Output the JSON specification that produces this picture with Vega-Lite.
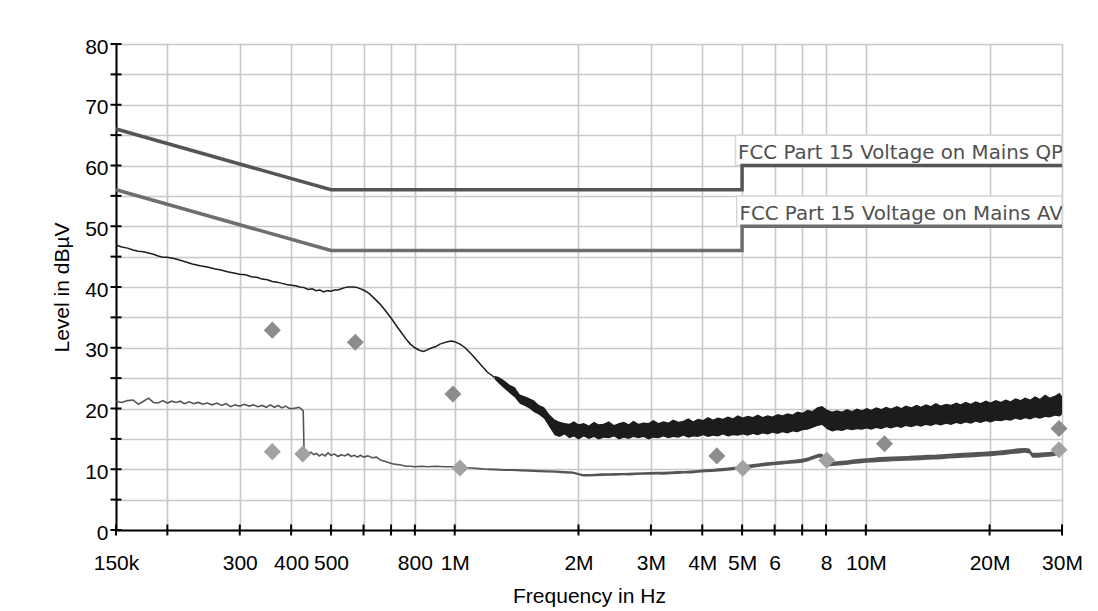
{
  "$schema": "https://vega.github.io/schema/vega-lite/v6.json",
  "width": 946,
  "height": 486,
  "autosize": {"type": "none"},
  "padding": {"left": 116, "top": 44, "right": 36, "bottom": 81},
  "background": "white",
  "config": {"view": {"stroke": null}},
  "datasets": {
    "limQP": [{"f":0.15,"v":66},{"f":0.5,"v":56},{"f":4.999,"v":56},{"f":5,"v":60},{"f":30,"v":60}],
    "limAV": [{"f":0.15,"v":56},{"f":0.5,"v":46},{"f":4.999,"v":46},{"f":5,"v":50},{"f":30,"v":50}],
    "boxes": [{"f":4.82,"f2":30,"v":60,"v2":65},{"f":4.85,"f2":30,"v":50,"v2":55}],
    "labels": [{"f":4.89,"v":61.1,"t":"FCC Part 15 Voltage on Mains QP"},{"f":4.93,"v":51.1,"t":"FCC Part 15 Voltage on Mains AV"}],
    "pk": [
      {"f":0.150,"v":46.9},{"f":0.155,"v":46.6},{"f":0.160,"v":46.4},{"f":0.165,"v":46.1},{"f":0.170,"v":45.9},{"f":0.175,"v":45.8},{"f":0.180,"v":45.6},{"f":0.185,"v":45.4},{"f":0.190,"v":45.1},{"f":0.195,"v":44.9},{"f":0.200,"v":44.9},{"f":0.210,"v":44.6},{"f":0.220,"v":44.2},{"f":0.230,"v":43.8},{"f":0.240,"v":43.5},{"f":0.250,"v":43.3},{"f":0.260,"v":43.0},{"f":0.270,"v":42.8},{"f":0.280,"v":42.5},{"f":0.290,"v":42.3},{"f":0.300,"v":42.1},{"f":0.310,"v":42.0},{"f":0.320,"v":41.7},{"f":0.330,"v":41.6},{"f":0.340,"v":41.3},{"f":0.350,"v":41.2},{"f":0.360,"v":40.9},{"f":0.370,"v":40.8},{"f":0.380,"v":40.6},{"f":0.390,"v":40.4},{"f":0.400,"v":40.3},{"f":0.410,"v":40.2},{"f":0.420,"v":40.0},{"f":0.430,"v":39.9},{"f":0.440,"v":39.6},{"f":0.450,"v":39.7},{"f":0.460,"v":39.4},{"f":0.470,"v":39.5},{"f":0.480,"v":39.2},{"f":0.490,"v":39.4},{"f":0.500,"v":39.3},{"f":0.510,"v":39.5},{"f":0.520,"v":39.5},{"f":0.530,"v":39.7},{"f":0.540,"v":39.9},{"f":0.550,"v":40.0},{"f":0.560,"v":40.0},{"f":0.570,"v":40.0},{"f":0.580,"v":39.9},{"f":0.590,"v":39.7},{"f":0.600,"v":39.5},{"f":0.620,"v":38.9},{"f":0.640,"v":38.0},{"f":0.660,"v":37.1},{"f":0.680,"v":36.0},{"f":0.700,"v":34.9},{"f":0.720,"v":33.7},{"f":0.740,"v":32.6},{"f":0.760,"v":31.5},{"f":0.780,"v":30.6},{"f":0.800,"v":30.0},{"f":0.820,"v":29.6},{"f":0.840,"v":29.4},{"f":0.860,"v":29.7},{"f":0.880,"v":30.0},{"f":0.900,"v":30.2},{"f":0.920,"v":30.6},{"f":0.940,"v":30.8},{"f":0.960,"v":31.0},{"f":0.980,"v":31.1},{"f":1.000,"v":31.0},{"f":1.030,"v":30.6},{"f":1.060,"v":30.0},{"f":1.100,"v":28.9},{"f":1.150,"v":27.4},{"f":1.200,"v":26.0},{"f":1.250,"v":25.1}
    ],
    "pkBand": [
      {"f":1.25,"v":24.8,"v2":25.4},{"f":1.28,"v":24.1,"v2":25.2},{"f":1.32,"v":23.3,"v2":24.6},{"f":1.36,"v":22.5,"v2":23.9},{"f":1.40,"v":21.8,"v2":23.5},{"f":1.44,"v":20.8,"v2":22.3},{"f":1.48,"v":20.4,"v2":22.0},{"f":1.52,"v":20.0,"v2":21.7},{"f":1.56,"v":19.4,"v2":21.3},{"f":1.60,"v":19.0,"v2":20.6},{"f":1.65,"v":18.3,"v2":20.2},{"f":1.70,"v":16.9,"v2":19.0},{"f":1.75,"v":15.6,"v2":18.2},{"f":1.80,"v":15.3,"v2":17.8},{"f":1.85,"v":15.7,"v2":17.6},{"f":1.90,"v":15.1,"v2":17.5},{"f":1.95,"v":15.4,"v2":17.9},{"f":2.00,"v":14.9,"v2":17.4},
      {"f":2.06,"v":15.4,"v2":17.6},{"f":2.12,"v":15.0,"v2":17.2},{"f":2.18,"v":15.3,"v2":17.8},{"f":2.24,"v":14.9,"v2":17.4},{"f":2.30,"v":15.2,"v2":17.5},{"f":2.37,"v":15.1,"v2":17.9},{"f":2.44,"v":15.4,"v2":17.3},{"f":2.51,"v":14.9,"v2":17.6},{"f":2.58,"v":15.2,"v2":17.8},{"f":2.65,"v":15.0,"v2":17.4},{"f":2.72,"v":15.3,"v2":18.0},{"f":2.80,"v":15.1,"v2":17.5},{"f":2.88,"v":15.3,"v2":17.7},{"f":2.96,"v":14.9,"v2":17.6},{"f":3.04,"v":15.2,"v2":18.1},{"f":3.13,"v":15.1,"v2":17.6},{"f":3.22,"v":15.4,"v2":17.9},{"f":3.31,"v":15.1,"v2":17.7},{"f":3.40,"v":15.3,"v2":18.2},{"f":3.50,"v":15.2,"v2":17.8},{"f":3.60,"v":15.5,"v2":18.0},{"f":3.70,"v":15.2,"v2":18.4},{"f":3.80,"v":15.4,"v2":17.9},{"f":3.91,"v":15.3,"v2":18.3},{"f":4.02,"v":15.6,"v2":18.1},{"f":4.13,"v":15.3,"v2":18.6},{"f":4.25,"v":15.5,"v2":18.2},{"f":4.37,"v":15.4,"v2":18.5},{"f":4.49,"v":15.7,"v2":18.3},{"f":4.62,"v":15.4,"v2":18.7},{"f":4.75,"v":15.6,"v2":18.4},{"f":4.88,"v":15.5,"v2":18.9},{"f":5.02,"v":15.7,"v2":18.5},{"f":5.16,"v":15.5,"v2":18.8},{"f":5.31,"v":15.8,"v2":18.6},{"f":5.46,"v":15.6,"v2":19.0},{"f":5.61,"v":15.9,"v2":18.6},{"f":5.77,"v":15.7,"v2":18.9},{"f":5.93,"v":16.0,"v2":18.7},{"f":6.10,"v":15.8,"v2":19.1},{"f":6.27,"v":16.1,"v2":18.9},{"f":6.45,"v":15.9,"v2":19.2},{"f":6.63,"v":16.2,"v2":19.0},{"f":6.82,"v":16.1,"v2":19.5},{"f":7.01,"v":16.4,"v2":19.3},{"f":7.21,"v":16.5,"v2":19.8},{"f":7.41,"v":16.8,"v2":19.6},{"f":7.62,"v":17.1,"v2":20.2},{"f":7.83,"v":17.3,"v2":20.4},{"f":8.05,"v":16.6,"v2":19.8},{"f":8.28,"v":16.2,"v2":19.5},{"f":8.51,"v":16.4,"v2":19.7},{"f":8.75,"v":16.3,"v2":19.5},{"f":9.00,"v":16.6,"v2":19.9},{"f":9.25,"v":16.4,"v2":19.6},{"f":9.51,"v":16.6,"v2":20.0},{"f":9.78,"v":16.5,"v2":19.7},{"f":10.05,"v":16.7,"v2":20.1},{"f":10.3,"v":16.5,"v2":19.8},{"f":10.6,"v":16.8,"v2":20.2},{"f":10.9,"v":16.6,"v2":19.9},{"f":11.2,"v":16.9,"v2":20.3},{"f":11.5,"v":16.7,"v2":20.0},{"f":11.9,"v":17.0,"v2":20.4},{"f":12.2,"v":16.8,"v2":20.1},{"f":12.5,"v":17.1,"v2":20.5},{"f":12.9,"v":16.9,"v2":20.2},{"f":13.3,"v":17.2,"v2":20.6},{"f":13.6,"v":17.0,"v2":20.3},{"f":14.0,"v":17.3,"v2":20.7},{"f":14.4,"v":17.1,"v2":20.4},{"f":14.8,"v":17.4,"v2":20.9},{"f":15.2,"v":17.2,"v2":20.5},{"f":15.7,"v":17.5,"v2":20.8},{"f":16.1,"v":17.3,"v2":20.6},{"f":16.6,"v":17.6,"v2":21.0},{"f":17.0,"v":17.4,"v2":20.7},{"f":17.5,"v":17.7,"v2":21.1},{"f":18.0,"v":17.5,"v2":20.8},{"f":18.5,"v":17.8,"v2":21.2},{"f":19.0,"v":17.6,"v2":20.9},{"f":19.6,"v":17.9,"v2":21.3},{"f":20.1,"v":17.7,"v2":21.0},{"f":20.7,"v":18.0,"v2":21.4},{"f":21.3,"v":17.9,"v2":21.1},{"f":21.9,"v":18.1,"v2":21.5},{"f":22.5,"v":18.0,"v2":21.2},{"f":23.1,"v":18.3,"v2":21.7},{"f":23.8,"v":18.1,"v2":21.4},{"f":24.4,"v":18.4,"v2":21.8},{"f":25.1,"v":18.2,"v2":21.5},{"f":25.8,"v":18.5,"v2":22.0},{"f":26.5,"v":18.3,"v2":21.6},{"f":27.3,"v":18.6,"v2":22.3},{"f":28.0,"v":18.5,"v2":21.8},{"f":28.8,"v":18.8,"v2":22.1},{"f":29.6,"v":18.7,"v2":22.6},{"f":30.0,"v":19.0,"v2":22.0}
    ],
    "av": [
      {"f":0.150,"v":21.2},{"f":0.155,"v":21.0},{"f":0.160,"v":21.3},{"f":0.165,"v":21.4},{"f":0.170,"v":20.7},{"f":0.175,"v":21.2},{"f":0.180,"v":21.7},{"f":0.185,"v":21.0},{"f":0.190,"v":20.9},{"f":0.195,"v":21.3},{"f":0.200,"v":20.9},{"f":0.205,"v":21.2},{"f":0.210,"v":21.0},{"f":0.215,"v":21.2},{"f":0.220,"v":20.8},{"f":0.226,"v":21.1},{"f":0.232,"v":20.8},{"f":0.238,"v":21.0},{"f":0.244,"v":20.7},{"f":0.250,"v":20.9},{"f":0.257,"v":20.6},{"f":0.264,"v":20.9},{"f":0.271,"v":20.5},{"f":0.278,"v":20.8},{"f":0.285,"v":20.3},{"f":0.292,"v":20.6},{"f":0.300,"v":20.4},{"f":0.308,"v":20.7},{"f":0.316,"v":20.4},{"f":0.324,"v":20.6},{"f":0.332,"v":20.3},{"f":0.340,"v":20.5},{"f":0.348,"v":20.2},{"f":0.356,"v":20.6},{"f":0.364,"v":20.2},{"f":0.372,"v":20.5},{"f":0.380,"v":20.1},{"f":0.388,"v":20.4},{"f":0.396,"v":20.0},{"f":0.404,"v":20.0},{"f":0.412,"v":20.1},{"f":0.418,"v":20.2},{"f":0.424,"v":19.9},{"f":0.428,"v":19.6},{"f":0.430,"v":13.2},{"f":0.435,"v":12.9},{"f":0.440,"v":12.6},{"f":0.447,"v":12.8},{"f":0.454,"v":12.4},{"f":0.461,"v":12.6},{"f":0.468,"v":12.2},{"f":0.476,"v":12.5},{"f":0.484,"v":12.2},{"f":0.492,"v":12.7},{"f":0.500,"v":12.3},{"f":0.510,"v":12.5},{"f":0.520,"v":12.1},{"f":0.530,"v":12.4},{"f":0.540,"v":12.2},{"f":0.550,"v":12.5},{"f":0.560,"v":12.1},{"f":0.570,"v":12.3},{"f":0.580,"v":12.0},{"f":0.590,"v":12.3},{"f":0.600,"v":12.0},{"f":0.615,"v":12.2},{"f":0.630,"v":11.9},{"f":0.645,"v":12.0},{"f":0.660,"v":11.5},{"f":0.675,"v":11.3},{"f":0.690,"v":11.1},{"f":0.705,"v":10.9},{"f":0.720,"v":10.8},{"f":0.740,"v":10.7},{"f":0.760,"v":10.5},{"f":0.780,"v":10.5},{"f":0.800,"v":10.4},{"f":0.830,"v":10.5},{"f":0.860,"v":10.4},{"f":0.900,"v":10.5},{"f":0.950,"v":10.4},{"f":1.000,"v":10.4},{"f":1.050,"v":10.3},{"f":1.100,"v":10.2},{"f":1.150,"v":10.1},{"f":1.200,"v":10.0}
    ],
    "avBand": [
      {"f":1.20,"v":9.85,"v2":10.15},{"f":1.26,"v":9.8,"v2":10.12},{"f":1.32,"v":9.72,"v2":10.05},{"f":1.38,"v":9.7,"v2":10.05},{"f":1.45,"v":9.62,"v2":9.98},{"f":1.52,"v":9.6,"v2":9.95},{"f":1.60,"v":9.5,"v2":9.88},{"f":1.68,"v":9.48,"v2":9.85},{"f":1.76,"v":9.42,"v2":9.8},{"f":1.85,"v":9.3,"v2":9.7},{"f":1.94,"v":9.25,"v2":9.62},{"f":2.00,"v":9.0,"v2":9.4},{"f":2.05,"v":8.8,"v2":9.2},{"f":2.12,"v":8.82,"v2":9.22},{"f":2.20,"v":8.85,"v2":9.25},{"f":2.28,"v":8.9,"v2":9.35},{"f":2.37,"v":8.95,"v2":9.35},{"f":2.46,"v":8.95,"v2":9.4},{"f":2.56,"v":9.0,"v2":9.4},{"f":2.66,"v":8.98,"v2":9.42},{"f":2.76,"v":9.05,"v2":9.48},{"f":2.87,"v":9.08,"v2":9.5},{"f":2.98,"v":9.1,"v2":9.55},{"f":3.10,"v":9.12,"v2":9.58},{"f":3.22,"v":9.1,"v2":9.6},{"f":3.35,"v":9.18,"v2":9.62},{"f":3.48,"v":9.2,"v2":9.7},{"f":3.62,"v":9.28,"v2":9.72},{"f":3.76,"v":9.3,"v2":9.8},{"f":3.91,"v":9.42,"v2":9.88},{"f":4.06,"v":9.5,"v2":10.0},{"f":4.22,"v":9.55,"v2":10.05},{"f":4.39,"v":9.65,"v2":10.15},{"f":4.56,"v":9.7,"v2":10.25},{"f":4.74,"v":9.82,"v2":10.35},{"f":4.92,"v":9.98,"v2":10.5},{"f":5.11,"v":10.1,"v2":10.7},{"f":5.31,"v":10.25,"v2":10.85},{"f":5.52,"v":10.4,"v2":11.0},{"f":5.74,"v":10.55,"v2":11.15},{"f":5.96,"v":10.65,"v2":11.25},{"f":6.19,"v":10.75,"v2":11.35},{"f":6.43,"v":10.85,"v2":11.45},{"f":6.68,"v":10.95,"v2":11.55},{"f":6.94,"v":11.02,"v2":11.68},{"f":7.21,"v":11.28,"v2":11.92},{"f":7.49,"v":11.68,"v2":12.32},{"f":7.70,"v":11.95,"v2":12.6},{"f":7.85,"v":11.85,"v2":12.5},{"f":7.95,"v":10.9,"v2":11.6},{"f":8.05,"v":10.45,"v2":11.15},{"f":8.30,"v":10.55,"v2":11.25},{"f":8.60,"v":10.62,"v2":11.35},{"f":8.95,"v":10.72,"v2":11.45},{"f":9.30,"v":10.85,"v2":11.6},{"f":9.65,"v":10.95,"v2":11.72},{"f":10.0,"v":11.05,"v2":11.82},{"f":10.4,"v":11.1,"v2":11.9},{"f":10.8,"v":11.2,"v2":12.0},{"f":11.2,"v":11.25,"v2":12.05},{"f":11.6,"v":11.3,"v2":12.1},{"f":12.1,"v":11.35,"v2":12.15},{"f":12.6,"v":11.38,"v2":12.2},{"f":13.1,"v":11.45,"v2":12.25},{"f":13.6,"v":11.5,"v2":12.3},{"f":14.1,"v":11.55,"v2":12.38},{"f":14.7,"v":11.6,"v2":12.4},{"f":15.3,"v":11.65,"v2":12.45},{"f":15.9,"v":11.75,"v2":12.55},{"f":16.5,"v":11.8,"v2":12.62},{"f":17.2,"v":11.9,"v2":12.7},{"f":17.9,"v":11.95,"v2":12.75},{"f":18.6,"v":12.0,"v2":12.82},{"f":19.3,"v":12.1,"v2":12.9},{"f":20.1,"v":12.15,"v2":12.95},{"f":20.9,"v":12.25,"v2":13.05},{"f":21.7,"v":12.35,"v2":13.15},{"f":22.6,"v":12.5,"v2":13.3},{"f":23.5,"v":12.6,"v2":13.45},{"f":24.4,"v":12.7,"v2":13.5},{"f":25.0,"v":12.6,"v2":13.4},{"f":25.4,"v":11.9,"v2":12.7},{"f":26.2,"v":11.9,"v2":12.7},{"f":27.2,"v":12.0,"v2":12.8},{"f":28.3,"v":12.1,"v2":12.9},{"f":29.3,"v":12.3,"v2":13.1},{"f":30.0,"v":12.45,"v2":13.25}
    ],
    "dQP": [{"f":0.36,"v":32.9},{"f":0.573,"v":30.9},{"f":0.99,"v":22.4},{"f":4.34,"v":12.2},{"f":11.1,"v":14.2},{"f":29.5,"v":16.7}],
    "dAV": [{"f":0.36,"v":12.9},{"f":0.427,"v":12.5},{"f":1.03,"v":10.2},{"f":5.02,"v":10.15},{"f":8.03,"v":11.5},{"f":29.5,"v":13.2}],
    "xt": [{"f":0.15,"v":0},{"f":0.2,"v":0},{"f":0.3,"v":0},{"f":0.4,"v":0},{"f":0.5,"v":0},{"f":0.6,"v":0},{"f":0.7,"v":0},{"f":0.8,"v":0},{"f":1,"v":0},{"f":2,"v":0},{"f":3,"v":0},{"f":4,"v":0},{"f":5,"v":0},{"f":6,"v":0},{"f":7,"v":0},{"f":8,"v":0},{"f":10,"v":0},{"f":20,"v":0},{"f":30,"v":0}],
    "yt": [{"f":0.15,"v":0},{"f":0.15,"v":5},{"f":0.15,"v":10},{"f":0.15,"v":15},{"f":0.15,"v":20},{"f":0.15,"v":25},{"f":0.15,"v":30},{"f":0.15,"v":35},{"f":0.15,"v":40},{"f":0.15,"v":45},{"f":0.15,"v":50},{"f":0.15,"v":55},{"f":0.15,"v":60},{"f":0.15,"v":65},{"f":0.15,"v":70},{"f":0.15,"v":75},{"f":0.15,"v":80}]
  },
  "encoding": {
    "x": {
      "field": "f", "type": "quantitative",
      "scale": {"type": "log", "domain": [0.15, 30], "nice": false},
      "axis": {
        "values": [0.15,0.2,0.3,0.4,0.5,0.6,0.7,0.8,1,2,3,4,5,6,7,8,10,20,30],
        "labelExpr": "datum.value==0.15?'150k':datum.value==0.3?'300':datum.value==0.4?'400':datum.value==0.5?'500':datum.value==0.8?'800':datum.value==1?'1M':datum.value==2?'2M':datum.value==3?'3M':datum.value==4?'4M':datum.value==5?'5M':datum.value==6?'6':datum.value==8?'8':datum.value==10?'10M':datum.value==20?'20M':datum.value==30?'30M':''",
        "labelOverlap": false, "labelFlush": false, "labelBound": false,
        "ticks": false, "domain": true, "domainColor": "#000000", "domainWidth": 2,
        "grid": true, "gridColor": "#c8c8c8", "gridWidth": 1.6,
        "labelFont": "Liberation Sans", "labelFontSize": 21, "labelColor": "#000000", "labelPadding": 22,
        "title": "Frequency in Hz", "titleFont": "Liberation Sans", "titleFontSize": 21, "titleFontWeight": "normal", "titleColor": "#000000", "titlePadding": 12
      }
    },
    "y": {
      "field": "v", "type": "quantitative",
      "scale": {"domain": [0, 80], "nice": false},
      "axis": {
        "values": [0,5,10,15,20,25,30,35,40,45,50,55,60,65,70,75,80],
        "labelExpr": "datum.value % 10 == 0 ? datum.label : ''",
        "ticks": false, "domain": true, "domainColor": "#000000", "domainWidth": 2,
        "grid": true, "gridColor": "#c8c8c8", "gridWidth": 1.6,
        "labelFont": "Liberation Sans", "labelFontSize": 21, "labelColor": "#000000", "labelPadding": 8, "labelOffset": 3,
        "title": "Level in dBµV", "titleFont": "Liberation Sans", "titleFontSize": 21, "titleFontWeight": "normal", "titleColor": "#000000", "titlePadding": 12
      }
    }
  },
  "layer": [
    {"data": {"name": "boxes"}, "mark": {"type": "rect", "fill": "white", "stroke": "#d6d6d6", "strokeWidth": 1.5}, "encoding": {"x2": {"field": "f2"}, "y2": {"field": "v2"}}},
    {"data": {"name": "limQP"}, "mark": {"type": "line", "color": "#555555", "strokeWidth": 3.5}},
    {"data": {"name": "limAV"}, "mark": {"type": "line", "color": "#6e6e6e", "strokeWidth": 3.5}},
    {"data": {"name": "labels"}, "mark": {"type": "text", "align": "left", "baseline": "alphabetic", "font": "DejaVu Sans", "fontSize": 19.8, "color": "#505050", "clip": true}, "encoding": {"text": {"field": "t"}}},
    {"data": {"name": "pk"}, "mark": {"type": "line", "color": "#1c1c1c", "strokeWidth": 1.5}},
    {"data": {"name": "pkBand"}, "mark": {"type": "area", "color": "#1c1c1c", "opacity": 1}, "encoding": {"y2": {"field": "v2"}}},
    {"data": {"name": "av"}, "mark": {"type": "line", "color": "#555555", "strokeWidth": 1.6}},
    {"data": {"name": "avBand"}, "mark": {"type": "area", "color": "#555555", "opacity": 1}, "encoding": {"y2": {"field": "v2"}}},
    {"data": {"name": "dQP"}, "mark": {"type": "point", "shape": "diamond", "filled": true, "size": 290, "color": "#8c8c8c", "opacity": 1}},
    {"data": {"name": "dAV"}, "mark": {"type": "point", "shape": "diamond", "filled": true, "size": 290, "color": "#a2a2a2", "opacity": 1}},
    {"data": {"name": "xt"}, "mark": {"type": "tick", "orient": "vertical", "size": 11, "thickness": 2, "color": "#000000", "opacity": 1, "clip": false}},
    {"data": {"name": "yt"}, "mark": {"type": "tick", "orient": "horizontal", "size": 11, "thickness": 2, "color": "#000000", "opacity": 1, "clip": false}}
  ]
}
